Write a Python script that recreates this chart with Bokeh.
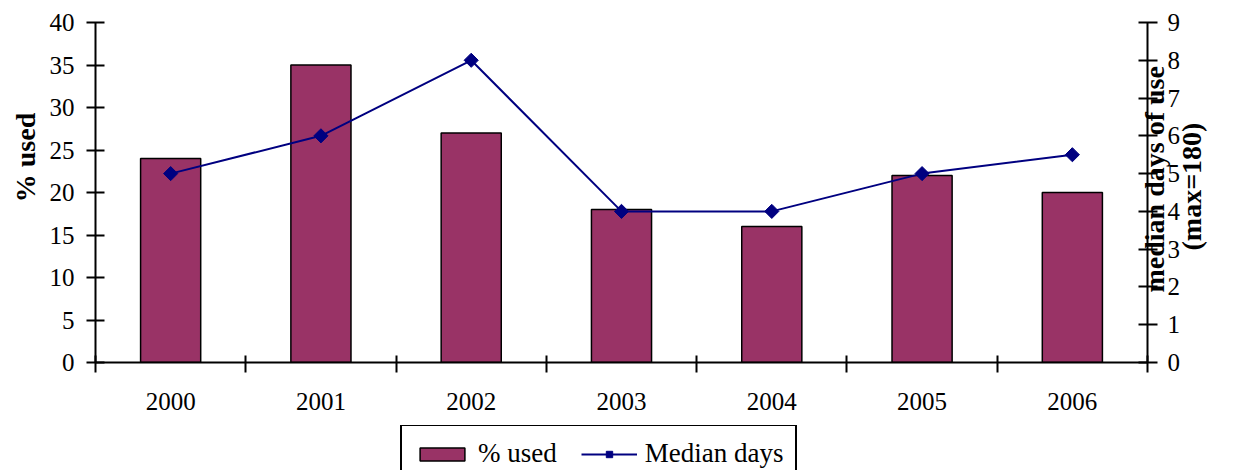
from bokeh.plotting import figure
from bokeh.models import (Range1d, LinearAxis, FixedTicker, Legend, LegendItem,
                          ColumnDataSource)
from bokeh.layouts import column
from bokeh.embed import file_html
from bokeh.resources import INLINE

# ---- data ----
years = ["2000", "2001", "2002", "2003", "2004", "2005", "2006"]
pct_used = [24, 35, 27, 18, 16, 22, 20]
median_days = [5, 6, 8, 4, 4, 5, 5.5]
left_ticks = [0, 5, 10, 15, 20, 25, 30, 35, 40]
right_ticks = [0, 1, 2, 3, 4, 5, 6, 7, 8, 9]

FONT = "Liberation Serif"
BAR = "#993366"
LINE = "#000080"
NB = "\u00a0"

xc = [i + 0.5 for i in range(len(years))]
src = ColumnDataSource(dict(x=xc, year=years, pct=pct_used, days=median_days))

p = figure(width=1246, height=425, output_backend="svg", toolbar_location=None,
           x_range=Range1d(0, len(years)), y_range=Range1d(0, 40),
           min_border_left=95, min_border_right=99, min_border_top=22,
           min_border_bottom=63)
p.extra_y_ranges = {"days": Range1d(0, 9)}
p.grid.visible = False
p.outline_line_color = None
p.background_fill_color = "white"
p.border_fill_color = "white"

bars = p.vbar(x="x", top="pct", width=0.4, source=src, fill_color=BAR,
              line_color="black", line_width=1.5)
ln = p.line(x="x", y="days", source=src, y_range_name="days", line_color=LINE,
            line_width=2)
pts = p.scatter(x="x", y="days", source=src, y_range_name="days", marker="square",
                angle=0.7854, size=10, fill_color=LINE, line_color=LINE)

# x axis
xa = p.xaxis[0]
xa.ticker = FixedTicker(ticks=xc, minor_ticks=list(range(len(years) + 1)))
xa.major_label_overrides = {xv: y for xv, y in zip(xc, years)}
xa.major_tick_in = 0
xa.major_tick_out = 0
xa.minor_tick_in = 7
xa.minor_tick_out = 10
xa.minor_tick_line_color = "black"
xa.minor_tick_line_width = 2
xa.axis_line_width = 2
xa.major_label_standoff = 20
xa.major_label_text_font = FONT
xa.major_label_text_font_size = "25px"
xa.major_label_text_color = "black"

# left axis
ya = p.yaxis[0]
ya.ticker = FixedTicker(ticks=left_ticks)
ya.minor_tick_line_color = None
ya.major_tick_in = 9
ya.major_tick_out = 9
ya.major_tick_line_width = 2
ya.axis_line_width = 2
ya.major_label_standoff = 12
ya.major_label_text_font = FONT
ya.major_label_text_font_size = "25px"
ya.major_label_text_color = "black"
ya.axis_label = NB * 10 + "% used"
ya.axis_label_text_font = FONT
ya.axis_label_text_font_style = "bold"
ya.axis_label_text_font_size = "28px"
ya.axis_label_text_color = "black"
ya.axis_label_standoff = 6

# right axis
ra = LinearAxis(y_range_name="days", ticker=FixedTicker(ticks=right_ticks))
ra.minor_tick_line_color = None
ra.major_tick_in = 9
ra.major_tick_out = 10
ra.major_tick_line_width = 2
ra.axis_line_width = 2
ra.major_label_standoff = 10
ra.major_label_text_font = FONT
ra.major_label_text_font_size = "25px"
ra.major_label_text_color = "black"
ra.axis_label = NB * 10 + "median days of use\n" + NB * 16 + "(max=180)"
ra.axis_label_orientation = 1.5708
ra.axis_label_align = "start"
ra.axis_label_text_font = FONT
ra.axis_label_text_font_style = "bold"
ra.axis_label_text_font_size = "28px"
ra.axis_label_text_color = "black"
ra.axis_label_standoff = -10
p.add_layout(ra, "right")

# legend in its own strip below (its sample renderers are hidden)
lg = figure(width=1246, height=45, output_backend="svg", toolbar_location=None,
            x_range=Range1d(100, 101), y_range=Range1d(100, 101),
            min_border=0, outline_line_color=None)
lg.axis.visible = False
lg.grid.visible = False
lb = lg.vbar(x="x", top="pct", width=0.4, source=src, fill_color=BAR,
             line_color="black", line_width=1.5, visible=False)
ll = lg.line(x="x", y="days", source=src, line_color=LINE, line_width=2,
             visible=False)
lp = lg.scatter(x="x", y="days", source=src, marker="square", angle=0.7854, size=11,
                fill_color=LINE, line_color=LINE, visible=False)
legend = Legend(items=[LegendItem(label="% used", renderers=[lb], index=0),
                       LegendItem(label="Median days", renderers=[ll, lp], index=0)],
                orientation="horizontal", location=(305, -13),
                label_text_font=FONT, label_text_font_size="27px",
                label_text_color="black", glyph_width=56, glyph_height=16,
                border_line_color="black", border_line_alpha=1.0,
                border_line_width=2, padding=12, spacing=24, label_standoff=8,
                margin=0, inactive_fill_alpha=0.0)
lg.add_layout(legend, "center")

open("out.html", "w").write(file_html(column(p, lg, spacing=0), INLINE))
